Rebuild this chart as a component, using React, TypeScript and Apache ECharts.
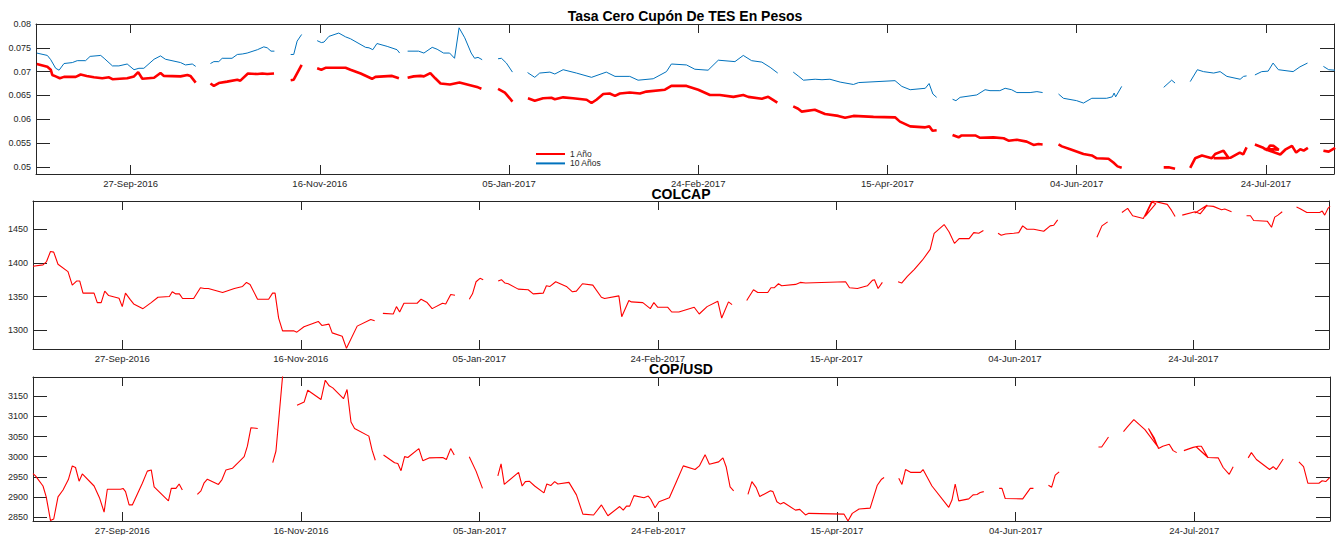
import React, { useEffect, useRef } from "react";
import * as echarts from "echarts";

// x = days since 27-Sep-2016
const tickDays = [0, 50, 100, 150, 200, 250, 300];
const tickLabels = ["27-Sep-2016", "16-Nov-2016", "05-Jan-2017", "24-Feb-2017", "15-Apr-2017", "04-Jun-2017", "24-Jul-2017"];

const tesTicks = [0.05, 0.055, 0.06, 0.065, 0.07, 0.075, 0.08];
const tesTickLabels = ["0.05", "0.055", "0.06", "0.065", "0.07", "0.075", "0.08"];
const colcapTicks = [1300, 1350, 1400, 1450];
const copTicks = [2850, 2900, 2950, 3000, 3050, 3100, 3150];

const titles = ["Tasa Cero Cupón De TES En Pesos", "COLCAP", "COP/USD"];
const legendNames = ["1 Año", "10 Años"];

type P = [number, number] | null;

// 1-year zero coupon rate (null = gap)
const tes1: P[] = [
  [-24.8, 0.0716], [-22, 0.071], [-21.1, 0.0704], [-20.7, 0.0693], [-19.8, 0.069], [-18.7, 0.0686], [-17.6, 0.0689], [-14.5, 0.0689], [-13.2, 0.0694], [-11.6, 0.0691], [-9.7, 0.0688], [-7.5, 0.0686], [-5.7, 0.0688], [-4.8, 0.0684], [-0.9, 0.0686], [0.9, 0.069], [2.0, 0.0699], [3.1, 0.0685], [6.2, 0.0687], [7.9, 0.0697], [8.8, 0.0691], [13.2, 0.069], [15.0, 0.0693], [15.8, 0.0691], [17.2, 0.0677],
  null,
  [21.1, 0.0675], [22.0, 0.067], [23.3, 0.0676], [25.5, 0.0679], [28.2, 0.0683], [29.0, 0.0681], [31.0, 0.0696], [33.5, 0.0695], [34.8, 0.0696], [36.1, 0.0695], [37.9, 0.0696],
  null,
  [42.3, 0.0682], [43.1, 0.0683], [45.2, 0.0714],
  null,
  [49.3, 0.0707], [50.4, 0.0704], [51.5, 0.0708], [56.8, 0.0708], [58.1, 0.0704], [60.8, 0.0696], [63.8, 0.0685], [64.7, 0.0689], [69.1, 0.0691], [70.9, 0.0686],
  null,
  [73.2, 0.0687], [74.8, 0.069], [76.6, 0.0691], [77.5, 0.069], [79.2, 0.0697], [80.5, 0.0686], [81.9, 0.0675], [84.4, 0.0673], [86.9, 0.0677], [90.5, 0.067], [91.8, 0.0667], [92.7, 0.0664],
  null,
  [97.1, 0.0664], [98.9, 0.0656], [100.2, 0.0644], [100.9, 0.0637],
  null,
  [105.0, 0.0644], [106.8, 0.0639], [109.0, 0.0644], [111.2, 0.0645], [112.1, 0.0642], [114.3, 0.0646], [116.9, 0.0644], [120.5, 0.0641], [121.8, 0.0634], [123.1, 0.0641], [124.9, 0.0653], [126.6, 0.0654], [128.0, 0.0649], [129.3, 0.0654], [131.9, 0.0656], [134.6, 0.0654], [136.3, 0.0658], [141.2, 0.0662], [142.9, 0.067], [146.9, 0.067], [150.0, 0.0662], [153.1, 0.0651], [155.7, 0.0651], [159.3, 0.0647], [161.9, 0.0651], [163.2, 0.0647], [166.8, 0.0643], [168.5, 0.0647], [170.9, 0.0635],
  null,
  [175.1, 0.0627], [176.4, 0.0622], [177.3, 0.0616], [180.8, 0.062], [183.5, 0.0611], [187.0, 0.0607], [188.8, 0.0603], [191.0, 0.0607], [196.3, 0.0605], [202.0, 0.0604], [203.3, 0.0595], [206.0, 0.0585], [210.0, 0.0583], [211.1, 0.0585], [211.9, 0.0576], [213.0, 0.0577],
  null,
  [217.2, 0.0567], [218.8, 0.0562], [219.6, 0.0566], [223.2, 0.0566], [224.5, 0.0561], [228.0, 0.0562], [230.7, 0.056], [232.0, 0.0555], [234.2, 0.0557], [236.8, 0.0553], [238.6, 0.0546], [239.9, 0.0548], [241.0, 0.0547],
  null,
  [245.2, 0.0547], [246.1, 0.0543], [248.3, 0.0537], [251.8, 0.0527], [254.0, 0.0524], [255.3, 0.0518], [258.4, 0.0517], [259.7, 0.0509], [260.8, 0.0501], [261.9, 0.0498],
  null,
  [273.0, 0.0499], [274.3, 0.0499], [276.0, 0.0496],
  null,
  [280.0, 0.0498], [281.3, 0.0518], [283.1, 0.0524], [285.7, 0.0518], [286.6, 0.0527], [288.8, 0.0534], [290.2, 0.0518], [286.2, 0.0518], [290.6, 0.0519], [293.1, 0.053], [294.0, 0.0526], [294.9, 0.0541],
  null,
  [297.1, 0.0547], [299.3, 0.054], [300.3, 0.0535], [301.1, 0.0545], [302.0, 0.0544], [303.4, 0.0536], [299.5, 0.0538], [303.8, 0.0526], [305.1, 0.0536], [306.9, 0.0544], [308.0, 0.053], [309.1, 0.0537], [310.0, 0.0534], [311.1, 0.054],
  null,
  [315.2, 0.0534], [316.6, 0.0532], [318.3, 0.054],
];

// 10-year zero coupon rate
const tes10: P[] = [
  [-24.8, 0.0739], [-22, 0.0734], [-21.1, 0.0725], [-19.8, 0.0707], [-18.9, 0.0703], [-17.6, 0.0717], [-15.4, 0.0719], [-14.1, 0.0723], [-11.9, 0.0723], [-10.7, 0.0732], [-7.9, 0.0734], [-7.0, 0.0728], [-4.8, 0.0712], [-3.1, 0.0712], [-0.9, 0.0716], [0.9, 0.0704], [2.2, 0.0707], [3.5, 0.0707], [6.2, 0.0726], [7.9, 0.0733], [9.2, 0.0726], [13.2, 0.0719], [14.5, 0.0714], [16.3, 0.0716], [17.2, 0.0711],
  null,
  [21.1, 0.0717], [22.0, 0.0721], [23.3, 0.0721], [24.2, 0.0728], [26.8, 0.0728], [28.2, 0.0736], [29.5, 0.0737], [30.8, 0.0739], [33.5, 0.0746], [35.2, 0.0752], [36.1, 0.075], [37.1, 0.0743], [38.0, 0.0743],
  null,
  [42.3, 0.0736], [43.1, 0.0736], [44.0, 0.0764], [45.2, 0.0778],
  null,
  [49.3, 0.0765], [50.4, 0.0761], [51.1, 0.0762], [52.4, 0.0774], [55.0, 0.0781], [56.8, 0.0773], [58.1, 0.0769], [62.1, 0.0751], [63.0, 0.075], [64.0, 0.0746], [65.1, 0.0759], [67.8, 0.0753], [70.4, 0.0746], [71.1, 0.0739],
  null,
  [73.2, 0.0743], [76.1, 0.0743], [77.5, 0.0739], [79.7, 0.0751], [81.0, 0.0747], [82.7, 0.0739], [84.3, 0.0739], [85.6, 0.0728], [86.8, 0.0792], [88.3, 0.0771], [90.0, 0.0739], [90.9, 0.0728], [91.8, 0.073], [92.9, 0.0725],
  null,
  [97.1, 0.0727], [98.0, 0.0728], [99.3, 0.0718], [100.9, 0.0699],
  null,
  [104.9, 0.0698], [106.8, 0.0688], [108.1, 0.0697], [110.8, 0.0699], [112.1, 0.0695], [114.3, 0.0704], [117.8, 0.0697], [121.8, 0.0688], [125.7, 0.0699], [128.0, 0.069], [131.9, 0.069], [134.1, 0.0682], [138.1, 0.0685], [141.6, 0.07], [142.9, 0.0716], [146.9, 0.0714], [149.1, 0.0705], [152.6, 0.0703], [155.3, 0.0724], [159.7, 0.0721], [161.9, 0.0734], [164.1, 0.0723], [166.8, 0.072], [169.0, 0.0709], [171.0, 0.0697],
  null,
  [175.1, 0.0699], [176.4, 0.0691], [177.8, 0.0682], [180.9, 0.0684], [182.7, 0.0683], [184.8, 0.0684], [187.5, 0.0678], [191.0, 0.0673], [192.4, 0.0677], [202.0, 0.0681], [203.8, 0.0669], [206.0, 0.0662], [210.0, 0.0665], [211.0, 0.0675], [212.0, 0.0653], [213.0, 0.0646],
  null,
  [217.2, 0.0642], [218.1, 0.0639], [219.2, 0.0646], [223.6, 0.0651], [225.8, 0.0662], [227.1, 0.066], [229.7, 0.066], [231.1, 0.0665], [232.8, 0.0662], [234.2, 0.0656], [237.7, 0.0656], [239.5, 0.0658], [241.0, 0.0656],
  null,
  [245.2, 0.0653], [246.5, 0.0644], [250.0, 0.0639], [251.8, 0.0634], [254.0, 0.0644], [257.9, 0.0644], [259.4, 0.0647], [259.9, 0.0655], [260.3, 0.0647], [261.9, 0.0669],
  null,
  [273.0, 0.0667], [275.1, 0.0682], [276.0, 0.0676],
  null,
  [280.0, 0.0679], [281.9, 0.0704], [283.5, 0.07], [286.2, 0.0697], [287.9, 0.07], [289.7, 0.069], [293.2, 0.0684], [294.1, 0.069], [294.9, 0.0691],
  null,
  [297.1, 0.0693], [298.9, 0.07], [300.6, 0.0701], [301.9, 0.0718], [303.3, 0.0704], [307.2, 0.07], [309.0, 0.071], [311.0, 0.0718],
  null,
  [315.2, 0.0711], [316.6, 0.0704], [318.3, 0.0703],
];

const colcap: P[] = [
  [-25, 1395], [-22.2, 1397], [-21.2, 1402], [-20.1, 1417], [-19.2, 1416], [-18.0, 1398], [-15.2, 1387], [-14.0, 1367], [-12.8, 1373], [-11.9, 1373], [-11.0, 1355], [-7.9, 1355], [-7.0, 1341], [-5.9, 1341], [-4.9, 1358], [-3.8, 1351.5], [-0.9, 1347.5], [0, 1335], [0.9, 1355], [2.3, 1345], [3.2, 1339], [5.8, 1332], [8.1, 1341], [10.0, 1349], [13.2, 1350], [14.0, 1357], [14.9, 1354], [16.0, 1354], [16.9, 1347], [20.0, 1347], [21.9, 1363], [23.0, 1362], [24.1, 1362], [28.1, 1356], [31.4, 1362], [33.7, 1365], [34.8, 1371], [35.8, 1368], [37.9, 1346], [41.0, 1346], [42.1, 1355], [42.8, 1355], [43.8, 1318], [44.9, 1299], [48.0, 1299], [48.9, 1297], [50.9, 1305], [54.9, 1313], [55.9, 1307], [57.9, 1309], [58.8, 1296], [61.6, 1291], [62.8, 1273], [65.8, 1306], [69.6, 1316], [70.7, 1314],
  null,
  [73.0, 1325], [75.9, 1324], [76.8, 1335], [77.7, 1327], [78.9, 1340], [82.6, 1340], [83.7, 1346], [85.4, 1341], [86.8, 1332], [89.7, 1340], [90.6, 1339], [92.0, 1353], [93.2, 1352],
  null,
  [97.2, 1346], [98.1, 1354], [99.1, 1372], [100.2, 1377], [101.1, 1375],
  null,
  [105.3, 1373], [106.2, 1375], [107.2, 1370], [108.1, 1369], [110.9, 1361], [113.7, 1360], [115.1, 1354], [117.9, 1355], [118.8, 1366], [119.8, 1365], [121.4, 1372], [124.4, 1365], [126.1, 1357], [127.2, 1358], [128.9, 1369], [131.8, 1367], [134.2, 1349], [135.1, 1347], [139.1, 1351], [139.9, 1320], [141.9, 1344], [142.6, 1342], [145.8, 1341], [147.9, 1332], [148.9, 1341], [150.0, 1334], [152.8, 1334], [153.9, 1327], [155.9, 1327], [160.2, 1334], [161.6, 1324], [163.8, 1335], [166.8, 1343], [167.9, 1318], [169.8, 1342], [170.8, 1338],
  null,
  [174.9, 1344], [176.8, 1360], [178.0, 1356], [180.8, 1356], [181.7, 1363], [182.6, 1363], [183.8, 1369], [184.7, 1366], [188.6, 1368], [189.9, 1371], [191.4, 1370], [202.6, 1372], [203.7, 1363], [205.9, 1362], [208.7, 1366], [210.1, 1374], [210.7, 1375], [211.7, 1362], [212.9, 1371],
  null,
  [217.3, 1372], [218.3, 1370], [219.9, 1380], [221.8, 1390], [224.1, 1404], [226.3, 1420], [227.4, 1444], [230.2, 1457], [231.6, 1446], [233.1, 1429], [234.4, 1436], [237.2, 1436], [238.5, 1445], [239.9, 1444], [241.2, 1448],
  null,
  [245.3, 1444], [246.2, 1441], [247.4, 1443], [249.7, 1444], [251.1, 1445], [252.2, 1455], [253.4, 1450], [255.3, 1450], [258.1, 1447], [259.9, 1455], [260.9, 1456], [262.0, 1464],
  null,
  [273.0, 1438], [274.4, 1455], [276.0, 1461],
  null,
  [280.0, 1475], [281.6, 1481], [283.0, 1470], [286.0, 1466], [288.3, 1491], [289.5, 1488], [286.5, 1469], [288.6, 1492], [292.7, 1487], [293.9, 1478], [294.9, 1469],
  null,
  [296.9, 1471], [300.5, 1476], [301.9, 1473], [303.9, 1486], [300.4, 1474], [303.7, 1485], [305.6, 1484], [307.9, 1479], [308.8, 1480], [310.7, 1476],
  null,
  [314.9, 1470], [316.0, 1470], [316.9, 1463], [320.7, 1462], [321.9, 1453], [322.8, 1468], [323.7, 1471], [324.9, 1476],
  null,
  [328.9, 1483], [329.8, 1481], [331.8, 1475], [335.4, 1475], [336.1, 1477], [336.8, 1471], [337.7, 1481], [338.3, 1484],
];

const copusd: P[] = [
  [-25, 2958], [-24.3, 2952], [-22.2, 2927], [-21.3, 2900], [-20.1, 2841], [-19.2, 2845], [-18.0, 2900], [-16.6, 2917], [-15.1, 2943], [-14.0, 2977], [-13.1, 2973], [-12.1, 2939], [-11.2, 2957], [-7.9, 2927], [-6.4, 2898], [-5.1, 2862], [-4.2, 2919], [-0.5, 2919], [0.2, 2921], [0.9, 2913], [1.9, 2880], [2.8, 2880], [5.6, 2934], [7.0, 2964], [8.1, 2967], [8.9, 2925], [12.9, 2890], [13.7, 2921], [15.0, 2921], [15.9, 2932], [16.8, 2917],
  null,
  [21.0, 2906], [22.0, 2915], [22.9, 2935], [23.8, 2944], [26.9, 2931], [27.9, 2943], [29.0, 2967], [30.8, 2971], [34.1, 3000], [35.0, 3026], [36.0, 3072], [37.9, 3070],
  null,
  [42.1, 2985], [43.0, 3014], [45.0, 3215],
  null,
  [48.9, 3128], [50.9, 3136], [51.9, 3165], [55.6, 3142], [56.8, 3190], [57.9, 3176], [58.9, 3171], [61.9, 3144], [62.9, 3167], [64.0, 3086], [65.0, 3070], [69.0, 3051], [69.9, 3016], [70.8, 2991],
  null,
  [73.1, 3004], [76.2, 2985], [77.1, 2983], [78.0, 2965], [79.0, 3000], [79.9, 2998], [83.0, 3020], [84.1, 2990], [86.0, 2997], [89.7, 2998], [90.7, 2993], [91.9, 3020], [92.9, 3004],
  null,
  [97.1, 3000], [99.0, 2964], [100.8, 2921],
  null,
  [105.1, 2952], [106.0, 2982], [106.9, 2931], [110.9, 2961], [111.9, 2927], [112.8, 2938], [113.9, 2939], [115.4, 2927], [118.0, 2910], [118.8, 2932], [119.9, 2928], [121.0, 2938], [121.9, 2932], [125.0, 2936], [127.1, 2905], [128.9, 2857], [131.9, 2855], [134.1, 2880], [135.9, 2853], [139.2, 2876], [140.2, 2867], [141.1, 2877], [142.0, 2877], [143.2, 2903], [146.0, 2898], [147.2, 2902], [147.9, 2894], [149.1, 2873], [150.2, 2888], [153.1, 2898], [155.1, 2938], [157.0, 2977], [160.3, 2968], [161.5, 2977], [163.1, 3005], [164.3, 2981], [166.9, 2987], [168.1, 2997], [169.0, 2975], [170.1, 2925], [171.1, 2915],
  null,
  [175.1, 2906], [176.2, 2938], [177.4, 2923], [178.4, 2901], [181.4, 2915], [182.1, 2913], [183.2, 2888], [184.2, 2882], [185.1, 2886], [188.4, 2867], [189.6, 2869], [191.2, 2855], [192.1, 2859], [202.0, 2857], [203.1, 2840], [204.3, 2859], [206.2, 2870], [209.3, 2872], [211.3, 2929], [212.5, 2944], [213.2, 2948],
  null,
  [217.3, 2946], [218.2, 2931], [219.2, 2968], [220.6, 2961], [223.4, 2961], [224.1, 2968], [226.6, 2927], [231.3, 2874], [232.2, 2892], [233.1, 2932], [234.1, 2890], [236.9, 2895], [238.1, 2905], [239.2, 2906], [240.1, 2911], [241.1, 2913],
  null,
  [245.4, 2921], [246.2, 2921], [247.1, 2896], [252.0, 2895], [254.1, 2921], [255.0, 2921],
  null,
  [259.2, 2929], [260.1, 2924], [261.1, 2954], [262.2, 2962],
  null,
  [273.2, 3024], [274.1, 3024], [276.0, 3049],
  null,
  [280.2, 3062], [281.3, 3074], [283.1, 3092], [286.2, 3067], [290.0, 3022], [287.2, 3070], [288.8, 3047], [290.0, 3020], [291.2, 3026], [293.0, 3031], [294.1, 3015], [295.1, 3010],
  null,
  [297.1, 3015], [299.7, 3023], [301.1, 3026], [302.0, 3026], [303.9, 2997], [300.6, 3024], [302.4, 3010], [303.9, 2998], [306.7, 2997], [308.1, 2973], [309.8, 2956], [310.9, 2975],
  null,
  [315.1, 2997], [316.0, 3010], [317.4, 2993], [321.1, 2968], [322.1, 2975], [323.0, 2968], [324.9, 2994],
  null,
  [329.3, 2987], [330.6, 2975], [331.8, 2934], [334.9, 2934], [335.8, 2940], [336.8, 2938], [337.9, 2948],
];

const FONT = "'Liberation Sans', Arial, Helvetica, sans-serif";
const AX = "#262626";

function toData(pts: P[]) {
  const out: any[] = [];
  let last = 0;
  for (const p of pts) {
    if (p === null) out.push([last + 0.1, "-"]);
    else {
      out.push(p);
      last = p[0];
    }
  }
  return out;
}

function labelFor(values: number[], labels: string[] | null) {
  return (v: number) => {
    const i = values.findIndex((t) => Math.abs(t - v) < 1e-9);
    if (i < 0) return "";
    return labels ? labels[i] : String(values[i]);
  };
}

function xAxesFor(gridIndex: number, min: number, max: number) {
  const base: any = {
    type: "value",
    gridIndex,
    min,
    max,
    splitLine: { show: false },
    axisLine: { show: true, onZero: false, lineStyle: { color: AX, width: 1 } },
    axisTick: { show: true, inside: true, length: 9, customValues: tickDays, lineStyle: { color: AX, width: 1 } },
  };
  return [
    {
      ...base,
      position: "bottom",
      axisLabel: {
        show: true,
        customValues: tickDays,
        formatter: labelFor(tickDays, tickLabels),
        fontSize: 9.5,
        fontFamily: FONT,
        color: AX,
        margin: 4,
      },
    },
    { ...base, position: "top", axisLabel: { show: false } },
  ];
}

function yAxesFor(gridIndex: number, min: number, max: number, ticks: number[], labels: string[] | null) {
  const base: any = {
    type: "value",
    gridIndex,
    min,
    max,
    scale: true,
    splitLine: { show: false },
    axisLine: { show: true, onZero: false, lineStyle: { color: AX, width: 1 } },
    axisTick: { show: true, inside: true, length: 14, customValues: ticks, lineStyle: { color: AX, width: 1 } },
  };
  return [
    {
      ...base,
      position: "left",
      axisLabel: {
        show: true,
        customValues: ticks,
        formatter: labelFor(ticks, labels),
        fontSize: 9,
        fontFamily: FONT,
        color: AX,
        margin: 5,
      },
    },
    { ...base, position: "right", axisLabel: { show: false } },
  ];
}

export default function App() {
  const ref = useRef<HTMLDivElement>(null);

  useEffect(() => {
    if (!ref.current) return;
    const chart = echarts.init(ref.current, null, { renderer: "svg" });

    const lineBase = {
      type: "line",
      symbol: "none",
      showSymbol: false,
      connectNulls: false,
      clip: true,
      silent: true,
    };

    chart.setOption({
      animation: false,
      backgroundColor: "#ffffff",
      grid: [
        { left: 36, top: 24, width: 1298, height: 150 },
        { left: 33, top: 201, width: 1296, height: 148 },
        { left: 33, top: 377, width: 1297, height: 144 },
      ],
      xAxis: [...xAxesFor(0, -25, 318), ...xAxesFor(1, -25, 338), ...xAxesFor(2, -25, 338)],
      yAxis: [
        ...yAxesFor(0, 0.0485, 0.08, tesTicks, tesTickLabels),
        ...yAxesFor(1, 1272, 1492, colcapTicks, null),
        ...yAxesFor(2, 2840, 3198, copTicks, null),
      ],
      legend: {
        data: legendNames,
        orient: "vertical",
        left: 535,
        top: 149.5,
        padding: 0,
        itemWidth: 29,
        itemHeight: 9,
        itemGap: 0.4,
        itemStyle: { opacity: 0 },
        textStyle: { fontSize: 8.5, fontFamily: FONT, color: AX, lineHeight: 9 },
      },
      series: [
        {
          ...lineBase,
          name: legendNames[0],
          xAxisIndex: 0,
          yAxisIndex: 0,
          data: toData(tes1),
          lineStyle: { color: "#ff0000", width: 2.6 },
          itemStyle: { color: "#ff0000" },
        },
        {
          ...lineBase,
          name: legendNames[1],
          xAxisIndex: 0,
          yAxisIndex: 0,
          data: toData(tes10),
          lineStyle: { color: "#0072bd", width: 1 },
          itemStyle: { color: "#0072bd" },
        },
        {
          ...lineBase,
          name: "COLCAP",
          xAxisIndex: 2,
          yAxisIndex: 2,
          data: toData(colcap),
          lineStyle: { color: "#ff0000", width: 1.1 },
          itemStyle: { color: "#ff0000" },
        },
        {
          ...lineBase,
          name: "COP/USD",
          xAxisIndex: 4,
          yAxisIndex: 4,
          data: toData(copusd),
          lineStyle: { color: "#ff0000", width: 1.1 },
          itemStyle: { color: "#ff0000" },
        },
      ],
      graphic: [
        { type: "text", x: 685, y: 16, style: { text: titles[0], align: "center", verticalAlign: "middle", font: `bold 14px ${FONT}`, fill: "#000" } },
        { type: "text", x: 681, y: 194, style: { text: titles[1], align: "center", verticalAlign: "middle", font: `bold 14px ${FONT}`, fill: "#000" } },
        { type: "text", x: 681, y: 369, style: { text: titles[2], align: "center", verticalAlign: "middle", font: `bold 14px ${FONT}`, fill: "#000" } },
      ],
    });

    return () => chart.dispose();
  }, []);

  return <div ref={ref} style={{ position: "fixed", left: 0, top: 0, width: 1343, height: 535, background: "#fff" }} />;
}
